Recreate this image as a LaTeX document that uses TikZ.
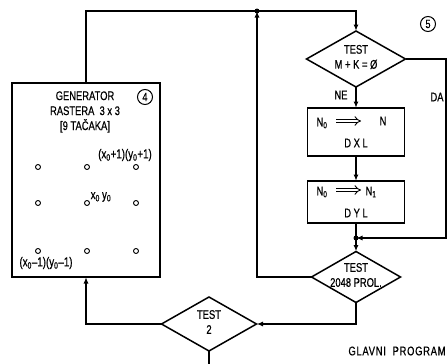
\documentclass[tikz,border=0pt]{standalone}
\usepackage{fontspec}
\setmainfont{Liberation Sans}[FakeStretch=0.75,FakeBold=0.6]
\usetikzlibrary{shapes.geometric,arrows.meta}
\tikzset{
  flow/.style={line width=1.4pt,-{Latex[length=6.5pt,width=5pt]}},
  plain/.style={line width=1.4pt},
  dbl/.style={line width=0.9pt,double distance=2.4pt,-{Implies}},
  dia/.style={diamond,draw,line width=1.5pt,inner sep=0pt,outer sep=0pt},
  box/.style={rectangle,draw,line width=1.6pt,inner sep=0pt,outer sep=0pt},
  txt/.style={inner sep=0pt,font=\fontsize{12.5}{15}\selectfont,align=center},
  small/.style={inner sep=0pt,font=\fontsize{13}{15}\selectfont},
  num/.style={circle,draw,line width=1pt,minimum size=15pt,inner sep=0pt,font=\fontsize{12}{13}\selectfont},
  pt/.style={circle,draw,line width=0.9pt,minimum size=5pt,inner sep=0pt},
  jdot/.style={circle,fill,minimum size=5pt,inner sep=0pt},
}
\begin{document}
\begin{tikzpicture}[x=1pt,y=-1pt]
\useasboundingbox (0,0) rectangle (448,364);
% shapes
\node[box,minimum width=148pt,minimum height=194pt] (g) at (86,180) {};
\node[dia,minimum width=99pt,minimum height=56pt] (d1) at (356,59) {};
\node[box,minimum width=97pt,minimum height=48pt] (b1) at (356,132) {};
\node[box,minimum width=97pt,minimum height=42pt] (b2) at (356,202) {};
\node[dia,minimum width=89pt,minimum height=51pt] (d2) at (356,277) {};
\node[dia,minimum width=95pt,minimum height=54pt] (d3) at (209,324) {};
% texts
\node[txt] (t1) at (356,57) {TEST\\M + K = Ø};
\node[txt] (t2) at (356,275) {TEST\\2048 PROL.};
\node[txt] (t3) at (209,322) {TEST\\2};
\node[txt] (b1n) at (322,123) {N\textsubscript{0}};
\node[txt] (b1m) at (383,121) {N};
\node[txt] (b1b) at (356,143) {D X L};
\node[txt] (b2n) at (322,192) {N\textsubscript{0}};
\node[txt] (b2m) at (371,192) {N\textsubscript{1}};
\node[txt] (b2b) at (356,213) {D Y L};
\coordinate (a1s) at (336,121);
\coordinate (a1e) at (361,121);
\coordinate (a2s) at (336,190);
\coordinate (a2e) at (361,190);
\draw[dbl] (a1s) -- (a1e);
\draw[dbl] (a2s) -- (a2e);
\node[txt] (gt) at (85,112) {GENERATOR\\RASTERA\ \ 3 x 3\\{}[9 TAČAKA]};
\node[num] (n4) at (145,97) {4};
\node[num] (n5) at (428,24) {5};
\node[txt] (ne) at (341,95) {NE};
\node[txt] (da) at (437,97) {DA};
\node[txt] (gp) at (397,351) {\addfontfeature{LetterSpace=6}GLAVNI\ \ PROGRAM};
% grid points
\foreach \c/\x in {a/38,b/87,c/136}{
  \foreach \r/\y in {1/167,2/203,3/251}{
    \node[pt] (p\c\r) at (\x,\y) {};
  }
}
\node[small] (l1) at (125,155) {(x\textsubscript{0}+1)(y\textsubscript{0}+1)};
\node[small,anchor=west] (l2) at (90.5,197) {x\textsubscript{0}\,y\textsubscript{0}};
\node[small] (l3) at (46,263) {(x\textsubscript{0}–1)(y\textsubscript{0}–1)};
% connectors
\coordinate (jt) at (257,11);
\coordinate (jd) at (356,238);
\coordinate (nr) at (446,238);
\coordinate (bot) at (209,364);
\draw[flow] (g.north) |- (jt) -| (d1.north);
\draw[flow] (d2.west) -| (jt);
\node[jdot] (jtd) at (jt) {};
\draw[flow] (d1.south) -- (b1.north);
\draw[flow] (b1.south) -- (b2.north);
\draw[flow] (b2.south) -- (d2.north);
\draw[flow] (d1.east) -| (nr) -- (jd);
\node[jdot] (jdd) at (jd) {};
\draw[flow] (d2.south) |- (d3.east);
\draw[flow] (d3.west) -| (g.south);
\draw[plain] (d3.south) -- (bot);
\end{tikzpicture}
\end{document}
